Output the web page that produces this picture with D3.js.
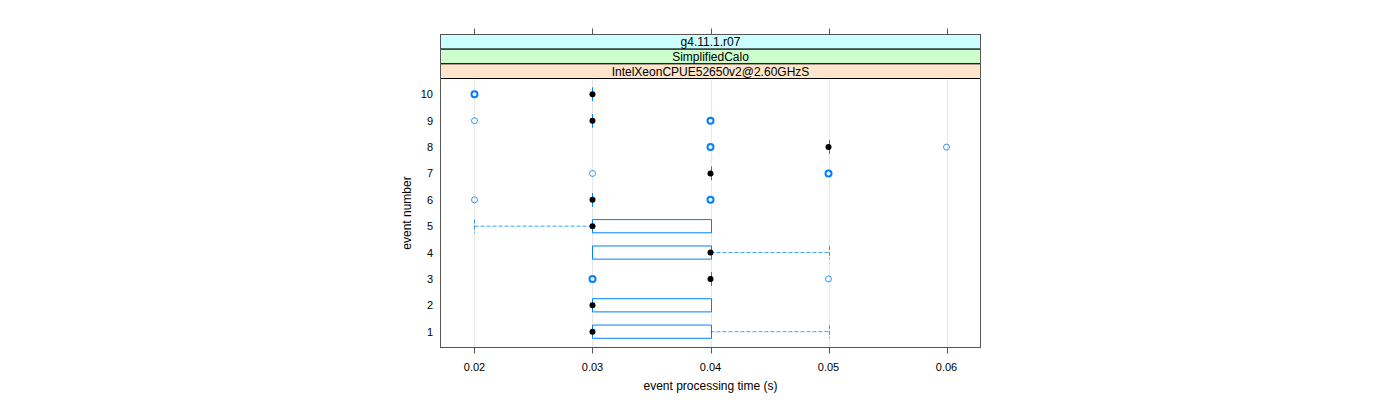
<!DOCTYPE html>
<html><head><meta charset="utf-8">
<script src="https://cdn.jsdelivr.net/npm/d3@7"></script>
<style>body{margin:0;background:#fff}svg{display:block}text{font-family:"Liberation Sans",Arial,sans-serif}</style>
</head><body><svg id="c" width="1400" height="400"></svg>
<script>
const events = [1,2,3,4,5,6,7,8,9,10];
const q1     = [0.03,0.03,0.04,0.03,0.03,0.03,0.04,0.05,0.03,0.03];
const median = [0.03,0.03,0.04,0.04,0.03,0.03,0.04,0.05,0.03,0.03];
const q3     = [0.04,0.04,0.04,0.04,0.04,0.03,0.04,0.05,0.03,0.03];
const whiskLo= [0.03,0.03,0.04,0.03,0.02,0.03,0.04,0.05,0.03,0.03];
const whiskHi= [0.05,0.04,0.04,0.05,0.04,0.03,0.04,0.05,0.03,0.03];
const outliers = [[],[],[0.03,0.03,0.05],[],[],[0.02,0.04,0.04],[0.03,0.05,0.05],[0.04,0.04,0.06],[0.02,0.04,0.04],[0.02,0.02]];
const xTicks = [0.02,0.03,0.04,0.05,0.06];
const strips = ["g4.11.1.r07","SimplifiedCalo","IntelXeonCPUE52650v2@2.60GHzS"];
const stripColors = ["#ccffff","#ccffcc","#ffe5cc"];

const svg = d3.select("#c");
const L=440.5,R=980.5,T=78.5,B=347.5;
const x = d3.scaleLinear().domain([0.01712,0.06288]).range([L,R]);
const y = d3.scaleLinear().domain([0.4,10.6]).range([B,T]);
const blue="#0080ff";
const px = v=>Math.round(x(v))+0.5;

// gridlines
svg.append("g").selectAll("line").data(xTicks).join("line")
  .attr("x1",px).attr("x2",px).attr("y1",T).attr("y2",B)
  .attr("stroke","#e6e6e6").attr("stroke-width",1);

// strips
const sh = (T-34.5)/3;
strips.forEach((s,i)=>{
  const yy = 34.5+i*sh;
  svg.append("rect").attr("x",L).attr("y",yy).attr("width",R-L).attr("height",sh)
    .attr("fill",stripColors[i]).attr("stroke","#000").attr("stroke-width",1);
  svg.append("text").attr("x",(L+R)/2).attr("y",yy+sh/2+4.5).attr("text-anchor","middle")
    .attr("font-size",12).attr("fill","#000").text(s);
});

// boxes
const hb = 6.6;
const g = svg.append("g");
events.forEach((e,i)=>{
  const cy = y(e);
  [[whiskLo[i],q1[i]],[q3[i],whiskHi[i]]].forEach(([a,b])=>{
    if (a!==b){
      g.append("line").attr("x1",x(a)).attr("x2",x(b)).attr("y1",cy).attr("y2",cy)
        .attr("stroke",blue).attr("stroke-opacity",0.75).attr("stroke-dasharray","4,2");
    }
  });
  [whiskLo[i],whiskHi[i]].forEach(w=>{
    g.append("line").attr("x1",px(w)).attr("x2",px(w)).attr("y1",cy-hb).attr("y2",cy+hb)
      .attr("stroke",blue).attr("stroke-opacity",0.75).attr("stroke-dasharray","4,2");
  });
  const a=px(q1[i]), b=px(q3[i]);
  g.append("path").attr("d",`M${a},${cy-hb}H${b}V${cy+hb}H${a}Z`)
    .attr("fill","none").attr("stroke",blue).attr("stroke-width",1);
  g.append("circle").attr("cx",x(median[i])).attr("cy",cy).attr("r",3).attr("fill","#000");
  const counts = d3.rollup(outliers[i],v=>v.length,d=>d);
  counts.forEach((n,v)=>{
    g.append("circle").attr("cx",x(v)).attr("cy",cy).attr("r",3)
      .attr("fill","none").attr("stroke",blue).attr("stroke-width",n>1?2:1)
      .attr("stroke-opacity",n>1?1:0.8);
  });
});

// panel border
svg.append("rect").attr("x",L).attr("y",34.5).attr("width",R-L).attr("height",B-34.5)
  .attr("fill","none").attr("stroke","#555").attr("stroke-width",1);

// x ticks bottom & top
svg.append("g").selectAll("line").data(xTicks).join("line")
  .attr("x1",px).attr("x2",px).attr("y1",B).attr("y2",B+6).attr("stroke","#555");
svg.append("g").selectAll("line").data(xTicks).join("line")
  .attr("x1",px).attr("x2",px).attr("y1",34.5).attr("y2",28.5).attr("stroke","#555");
svg.append("g").selectAll("text").data(xTicks).join("text")
  .attr("x",d=>x(d)).attr("y",371).attr("text-anchor","middle").attr("font-size",11)
  .text(d3.format(".2f"));
svg.append("g").selectAll("text").data(events).join("text")
  .attr("x",433).attr("y",d=>y(d)+4).attr("text-anchor","end").attr("font-size",11)
  .text(d=>d);

svg.append("text").attr("x",(L+R)/2).attr("y",390).attr("text-anchor","middle").attr("font-size",12)
  .text("event processing time (s)");
svg.append("text").attr("transform",`translate(411,${(T+B)/2}) rotate(-90)`).attr("text-anchor","middle")
  .attr("font-size",12).text("event number");
</script></body></html>
